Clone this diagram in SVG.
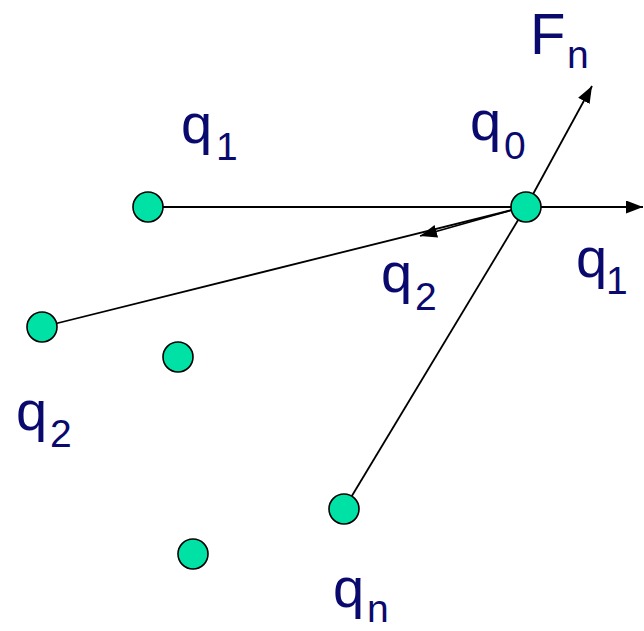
<svg xmlns="http://www.w3.org/2000/svg" width="644" height="631" viewBox="0 0 644 631">
  <style>
    .lbl { font-family: "Liberation Sans", Arial, sans-serif; fill: #0a0a6e; font-size: 56px; }
    .sub { font-size: 39px; }
    .big { font-size: 58px; }
    .edge { stroke: #000; stroke-width: 1.8; fill: none; }
    .node { fill: #00e1a6; stroke: #000; stroke-width: 1.6; }
  </style>
  <defs>
    <marker id="arr" markerUnits="userSpaceOnUse" markerWidth="18" markerHeight="14" refX="17" refY="6.5" orient="auto">
      <path d="M0,0 L17,6.5 L0,13 Z" fill="#000"/>
    </marker>
  </defs>
  <rect width="644" height="631" fill="#fff"/>
  <g id="connectors">
    <line class="edge" x1="148" y1="207" x2="526" y2="207"/>
    <line class="edge" x1="42" y1="327" x2="512" y2="210"/>
    <line class="edge" x1="344" y1="509" x2="526" y2="207"/>
    <line class="edge" x1="526" y1="207" x2="592" y2="86" marker-end="url(#arr)"/>
    <line class="edge" x1="526" y1="207" x2="643" y2="207" marker-end="url(#arr)"/>
    <line class="edge" x1="512" y1="210" x2="420" y2="236" marker-end="url(#arr)"/>
  </g>
  <g id="node-q0"><circle class="node" cx="526" cy="207" r="15"/></g>
  <g id="node-q1"><circle class="node" cx="148" cy="207" r="15"/></g>
  <g id="node-q2"><circle class="node" cx="42" cy="327" r="15"/></g>
  <g id="node-a"><circle class="node" cx="178" cy="357" r="15"/></g>
  <g id="node-qn"><circle class="node" cx="344" cy="509" r="15"/></g>
  <g id="node-b"><circle class="node" cx="193" cy="554" r="15"/></g>
  <g id="labels">
    <text class="lbl" x="530" y="54"><tspan class="big">F</tspan><tspan class="sub" x="567" y="68">n</tspan></text>
    <text class="lbl" x="470" y="140">q<tspan class="sub" x="504" y="159">0</tspan></text>
    <text class="lbl" x="181" y="143">q<tspan class="sub" x="216" y="160">1</tspan></text>
    <text class="lbl" x="576" y="277">q<tspan class="sub" x="606" y="294">1</tspan></text>
    <text class="lbl" x="381" y="292">q<tspan class="sub" x="415" y="310">2</tspan></text>
    <text class="lbl" x="16" y="430">q<tspan class="sub" x="50" y="447">2</tspan></text>
    <text class="lbl" x="333" y="607">q<tspan class="sub" x="367" y="622">n</tspan></text>
  </g>
</svg>
